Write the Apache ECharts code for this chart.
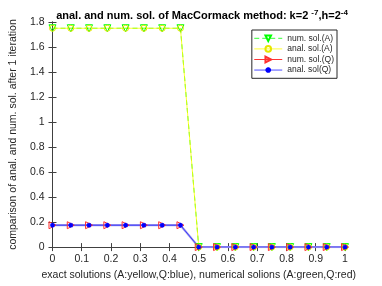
<!DOCTYPE html>
<html><head><meta charset="utf-8">
<script src="https://cdn.jsdelivr.net/npm/echarts@6/dist/echarts.min.js"></script>
<style>html,body{margin:0;padding:0;background:#fff}#c{width:382px;height:286px}</style>
</head><body><div id="c"></div>
<script>
const xs = [0,0.0625,0.125,0.1875,0.25,0.3125,0.375,0.4375,0.5,0.5625,0.625,0.6875,0.75,0.8125,0.875,0.9375,1];
const numA  = [1.75,1.75,1.75,1.75,1.75,1.75,1.75,1.75,0,0,0,0,0,0,0,0,0];
const analA = [1.75,1.75,1.75,1.75,1.75,1.75,1.75,1.75,0,0,0,0,0,0,0,0,0];
const numQ  = [0.175,0.175,0.175,0.175,0.175,0.175,0.175,0.175,0,0,0,0,0,0,0,0,0];
const analQ = [0.175,0.175,0.175,0.175,0.175,0.175,0.175,0.175,0,0,0,0,0,0,0,0,0];
const names = ['num. sol.(A)','anal. sol.(A)','num. sol.(Q)','anal. sol(Q)'];
const pair = a => xs.map((x,i)=>[x,a[i]]);
const F = 'Liberation Sans, Arial, sans-serif';
const star = 'path://M5,0L5,10M0,5L10,5M1.5,1.5L8.5,8.5M8.5,1.5L1.5,8.5';
const chart = echarts.init(document.getElementById('c'));
const axC = '#404040';
chart.setOption({
  animation:false,
  title:{text:'anal. and num. sol. of MacCormack method: k=2 {s|-7},h=2{s|-4}',left:197,top:4,textAlign:'center',
    textStyle:{fontFamily:F,fontSize:11,fontWeight:'bold',color:'#000',rich:{s:{fontSize:8,fontWeight:'bold',verticalAlign:'top',padding:[0,0,6,0]}}}},
  grid:{left:50,right:37,top:22,bottom:32},
  legend:{right:45,top:30,orient:'vertical',itemWidth:28,itemHeight:7,itemGap:0,padding:[3,3,3,2],
    backgroundColor:'#fff',borderColor:'#262626',borderWidth:1,borderRadius:0,
    textStyle:{fontFamily:F,fontSize:8.5,lineHeight:10.5,color:'#262626'},
    data:[{name:names[0],lineStyle:{width:0.8}},{name:names[1],lineStyle:{width:0.8}},
          {name:names[2],lineStyle:{color:'#ff0000',width:0.8,opacity:1}},{name:names[3],lineStyle:{width:0.8}}]},
  xAxis:[{type:'value',min:0,max:1,interval:0.1,name:'exact solutions (A:yellow,Q:blue), numerical solions (A:green,Q:red)',
    nameLocation:'middle',nameGap:22,nameTextStyle:{fontFamily:F,fontSize:10.5,color:'#262626'},
    axisLine:{lineStyle:{color:axC}},axisTick:{inside:true,length:4,lineStyle:{color:axC}},
    axisLabel:{fontFamily:F,fontSize:10.5,color:'#262626',margin:7},splitLine:{show:false}},
    {type:'value',position:'top',min:0,max:1,interval:0.1,axisLine:{show:true,lineStyle:{color:axC}},axisTick:{inside:true,length:4,lineStyle:{color:axC}},axisLabel:{show:false},splitLine:{show:false}}],
  yAxis:[{type:'value',min:0,max:1.8,interval:0.2,name:'comparison of anal. and num. sol. after 1 iteration',
    nameLocation:'middle',nameGap:30,nameTextStyle:{fontFamily:F,fontSize:10.5,color:'#262626'},
    axisLine:{show:true,lineStyle:{color:axC}},axisTick:{show:true,inside:true,length:4,lineStyle:{color:axC}},
    axisLabel:{fontFamily:F,fontSize:10.5,color:'#262626',margin:8,formatter:v=>String(+v.toFixed(1))},splitLine:{show:false}},
    {type:'value',position:'right',min:0,max:1.8,interval:0.2,axisLine:{show:true,lineStyle:{color:axC}},axisTick:{show:true,inside:true,length:4,lineStyle:{color:axC}},axisLabel:{show:false},splitLine:{show:false}}],
  series:[
    {name:names[0],type:'line',data:pair(numA),symbol:'triangle',symbolRotate:180,symbolSize:7,
      lineStyle:{color:'#00ff00',width:0.8,type:[5,3]},itemStyle:{color:'none',borderColor:'#00ff00',borderWidth:1},color:'#00ff00'},
    {name:names[1],type:'line',data:pair(analA),symbol:'circle',symbolSize:6,
      lineStyle:{color:'#ffff00',width:0.8},itemStyle:{color:'none',borderColor:'#e6e600',borderWidth:1},color:'#ffff00'},
    {name:names[2],type:'line',data:pair(numQ),symbol:'triangle',symbolRotate:-90,symbolSize:7,
      lineStyle:{color:'#a59fee',width:2.2},itemStyle:{color:'none',borderColor:'#ff3030',borderWidth:1},color:'#ff0000'},
    {name:names[3],type:'line',data:pair(analQ),symbol:star,symbolSize:5,
      lineStyle:{color:'#2020ff',width:0.8},itemStyle:{color:'#0000ff',borderColor:'#0000ff',borderWidth:1.2},color:'#0000ff'}
  ]
});
</script></body></html>
